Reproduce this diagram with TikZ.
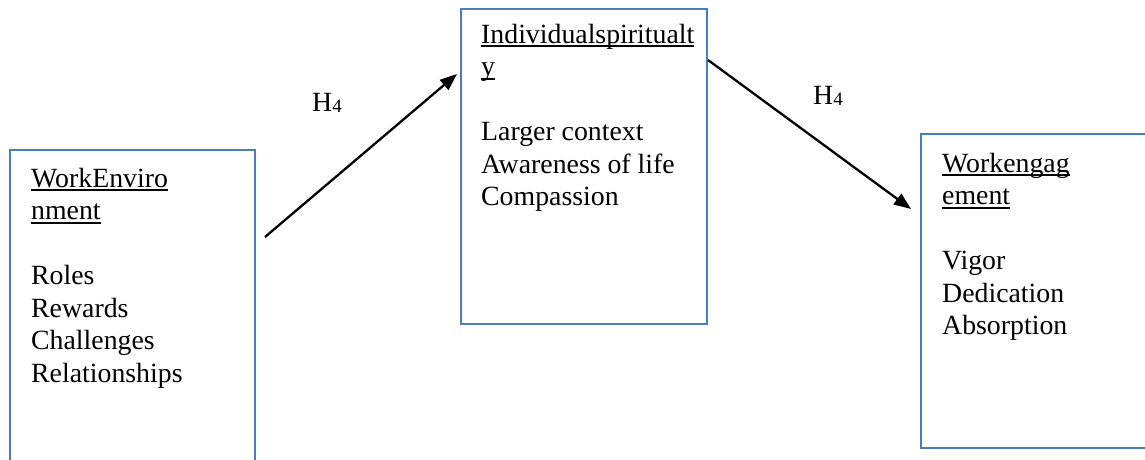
\documentclass[tikz,border=0pt]{standalone}
\usepackage{fontspec}
\setmainfont{Liberation Serif}
\usetikzlibrary{arrows.meta}
\definecolor{boxblue}{RGB}{74,126,187}
\newcommand\myul[1]{\leavevmode\setbox0\hbox{#1}\rlap{\rule[-4.2pt]{\wd0}{2.2pt}}\box0}
\newcommand\hfour{H\raisebox{-1.5pt}{\fontsize{19}{21}\selectfont 4}}
\begin{document}
\begin{tikzpicture}[x=1pt,y=-1pt,
  box/.style={draw=boxblue, line width=2.6pt, inner sep=0pt, outer sep=0pt, anchor=north west},
  txt/.style={inner sep=0pt, anchor=base west, font=\fontsize{27.8}{32.5}\selectfont},
  conn/.style={line width=2.3pt, -{Triangle[length=17pt,width=13pt]}}]
\useasboundingbox (0,0) rectangle (1145,459);
\clip (0,0) rectangle (1145,459);
% boxes
\node[box, minimum width=245pt, minimum height=330pt] (env) at (10,150) {};
\node[box, minimum width=246pt, minimum height=315pt] (spir) at (461,9) {};
\node[box, minimum width=260pt, minimum height=314pt] (eng) at (921,134) {};
% texts
\node[txt] (envt) at (31,187) {\begin{tabular}[t]{@{}l@{}}\myul{WorkEnviro}\\\myul{nment}\\ \\Roles\\Rewards\\Challenges\\Relationships\end{tabular}};
\node[txt] (spirt) at (481,43) {\begin{tabular}[t]{@{}l@{}}\myul{Individualspiritualt}\\\myul{y}\\ \\Larger context\\Awareness of life\\Compassion\end{tabular}};
\node[txt] (engt) at (942,172) {\begin{tabular}[t]{@{}l@{}}\myul{Workengag}\\\myul{ement}\\ \\Vigor\\Dedication\\Absorption\end{tabular}};
% labels
\node[txt] (h1) at (312,111) {\hfour};
\node[txt] (h2) at (813,104) {\hfour};
% connectors
\coordinate (a1s) at (265,237);
\coordinate (a1e) at (457,74);
\coordinate (a2s) at (708,60);
\coordinate (a2e) at (911,209);
\draw[conn] (a1s) -- (a1e);
\draw[conn] (a2s) -- (a2e);
\end{tikzpicture}
\end{document}
